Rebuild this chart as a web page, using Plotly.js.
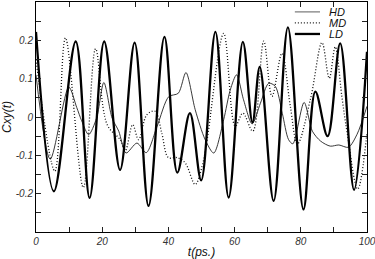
<!DOCTYPE html>
<html>
<head>
<meta charset="utf-8">
<script src="https://cdn.plot.ly/plotly-3.0.1.min.js"></script>
<style>
html,body{margin:0;padding:0;background:#fff;}
#chart{width:375px;height:259px;}
</style>
</head>
<body>
<div id="chart"></div>
<script>
// Time (ps) and Cxy(t) values
var hdTime = [0, 4.3, 9.9, 12.3, 13.8, 15.9, 18.3, 20.5, 23.0, 25.0, 27.2, 30.5, 33.3, 36.6, 40.1, 43.0, 45.3, 48.1, 51.1, 53.7, 56.7, 58.7, 60.6, 62.7, 65.3, 67.8, 70.3, 72.3, 74.4, 76.3, 77.6, 81.0, 83.5, 86.0, 88.9, 91.5, 94.4, 97.0, 100];
var hdValues = [0.11, -0.11, 0.078, 0.025, -0.01, -0.046, -0.003, 0.09, -0.003, -0.037, -0.094, -0.068, -0.093, -0.024, 0.053, 0.062, 0.116, 0.019, -0.059, -0.094, -0.007, 0.071, 0.11, 0.045, -0.018, 0.036, 0.088, 0.08, 0.01, -0.059, -0.07, 0.038, -0.037, -0.063, -0.076, -0.073, -0.079, -0.045, 0.028];

var mdTime = [0, 5.7, 8.9, 14.3, 18.0, 21.5, 25.5, 27.0, 29.2, 31.0, 33.5, 36.0, 38.0, 40.0, 42.6, 45.1, 48.1, 50.2, 51.7, 56.7, 60.2, 62.5, 65.5, 68.8, 71.3, 74.3, 76.8, 79.0, 83.0, 86.4, 88.6, 90.4, 92.4, 94.0, 97.2, 100];
var mdValues = [0.15, -0.141, 0.206, -0.184, 0.178, -0.02, -0.06, -0.087, -0.02, -0.059, 0.006, 0.015, -0.042, -0.106, -0.106, -0.12, -0.176, -0.128, -0.059, 0.218, -0.024, 0.01, -0.037, 0.198, 0.054, 0.166, 0.03, -0.07, 0.05, 0.194, 0.101, 0.183, 0.054, -0.041, -0.188, -0.04];

var ldTime = [0, 5.4, 12.0, 16.2, 20.6, 25.4, 29.8, 34.0, 38.8, 42.7, 46.5, 49.9, 54.2, 58.2, 62.5, 65.4, 67.6, 71.8, 76.1, 80.8, 84.4, 88.1, 91.9, 96.1, 100];
var ldValues = [0.222, -0.194, 0.197, -0.211, 0.197, -0.138, 0.194, -0.232, 0.209, -0.145, 0.010, -0.165, 0.222, -0.21, 0.196, -0.014, 0.131, -0.219, 0.234, -0.241, 0.066, -0.05, 0.192, -0.19, 0.17];

var seriesNames = ['HD', 'MD', 'LD'];
var xTickVals = [0, 20, 40, 60, 80, 100];
var xTickText = ['0', '20', '40', '60', '80', '100'];
var yTickVals = [-0.2, -0.1, 0, 0.1, 0.2];
var yTickText = ['-0.2', '-0.1', '0', '0.1', '0.2'];

var styles = [
  {color: '#222', width: 0.9, dash: 'solid', smoothing: 0.8},
  {color: '#111', width: 1.3, dash: '1px,2px', smoothing: 1.0},
  {color: '#000', width: 2.3, dash: 'solid', smoothing: 1.0}
];
var xs = [hdTime, mdTime, ldTime];
var ys = [hdValues, mdValues, ldValues];

var traces = seriesNames.map(function(n, i){
  return {
    x: xs[i], y: ys[i], name: n, type: 'scatter', mode: 'lines',
    line: {color: styles[i].color, width: styles[i].width, dash: styles[i].dash,
           shape: 'spline', smoothing: styles[i].smoothing},
    showlegend: false, hoverinfo: 'skip'
  };
});

var tickFont = {family: 'Liberation Sans, Arial, sans-serif', size: 10, style: 'italic', color: '#333'};
var titleFont = {family: 'Liberation Sans, Arial, sans-serif', size: 12, style: 'italic', color: '#111'};

// custom compact legend (paper coordinates)
var legendY = [0.957, 0.909, 0.861];
var shapes = [], annotations = [];
seriesNames.forEach(function(n, i){
  shapes.push({type: 'line', xref: 'paper', yref: 'paper', x0: 0.782, x1: 0.858, y0: legendY[i], y1: legendY[i],
    line: {color: i === 0 ? '#777' : styles[i].color, width: i === 0 ? 1.2 : styles[i].width, dash: styles[i].dash}});
  annotations.push({xref: 'paper', yref: 'paper', x: 0.878, y: legendY[i], xanchor: 'left', yanchor: 'middle',
    text: n, showarrow: false, font: {family: 'Liberation Sans, Arial, sans-serif', size: 11, style: 'italic', color: '#111'}});
});

var layout = {
  width: 375, height: 259,
  margin: {l: 36, r: 8, t: 2, b: 27},
  paper_bgcolor: '#fff', plot_bgcolor: '#fff',
  showlegend: false,
  xaxis: {
    range: [0, 100], tickmode: 'array', tickvals: xTickVals, ticktext: xTickText,
    ticks: 'inside', ticklen: 5, tickwidth: 1, tickcolor: '#222',
    minor: {dtick: 10, tick0: 0, ticks: 'inside', ticklen: 5, tickcolor: '#222'},
    showline: true, linecolor: '#000', linewidth: 1, mirror: 'allticks',
    showgrid: false, zeroline: false, tickfont: tickFont, ticklabeloverflow: 'allow',
    title: {text: 't(ps.)', font: titleFont, standoff: 5}
  },
  yaxis: {
    range: [-0.3, 0.3], tickmode: 'array', tickvals: yTickVals, ticktext: yTickText,
    ticks: 'inside', ticklen: 5, tickwidth: 1, tickcolor: '#222',
    minor: {dtick: 0.05, tick0: 0, ticks: 'inside', ticklen: 5, tickcolor: '#222'},
    showline: true, linecolor: '#000', linewidth: 1, mirror: 'allticks',
    showgrid: false, zeroline: false, tickfont: tickFont,
    title: {text: 'Cxy(t)', font: titleFont, standoff: 5}
  },
  shapes: shapes,
  annotations: annotations
};

Plotly.newPlot('chart', traces, layout, {staticPlot: true, displayModeBar: false});
</script>
</body>
</html>
